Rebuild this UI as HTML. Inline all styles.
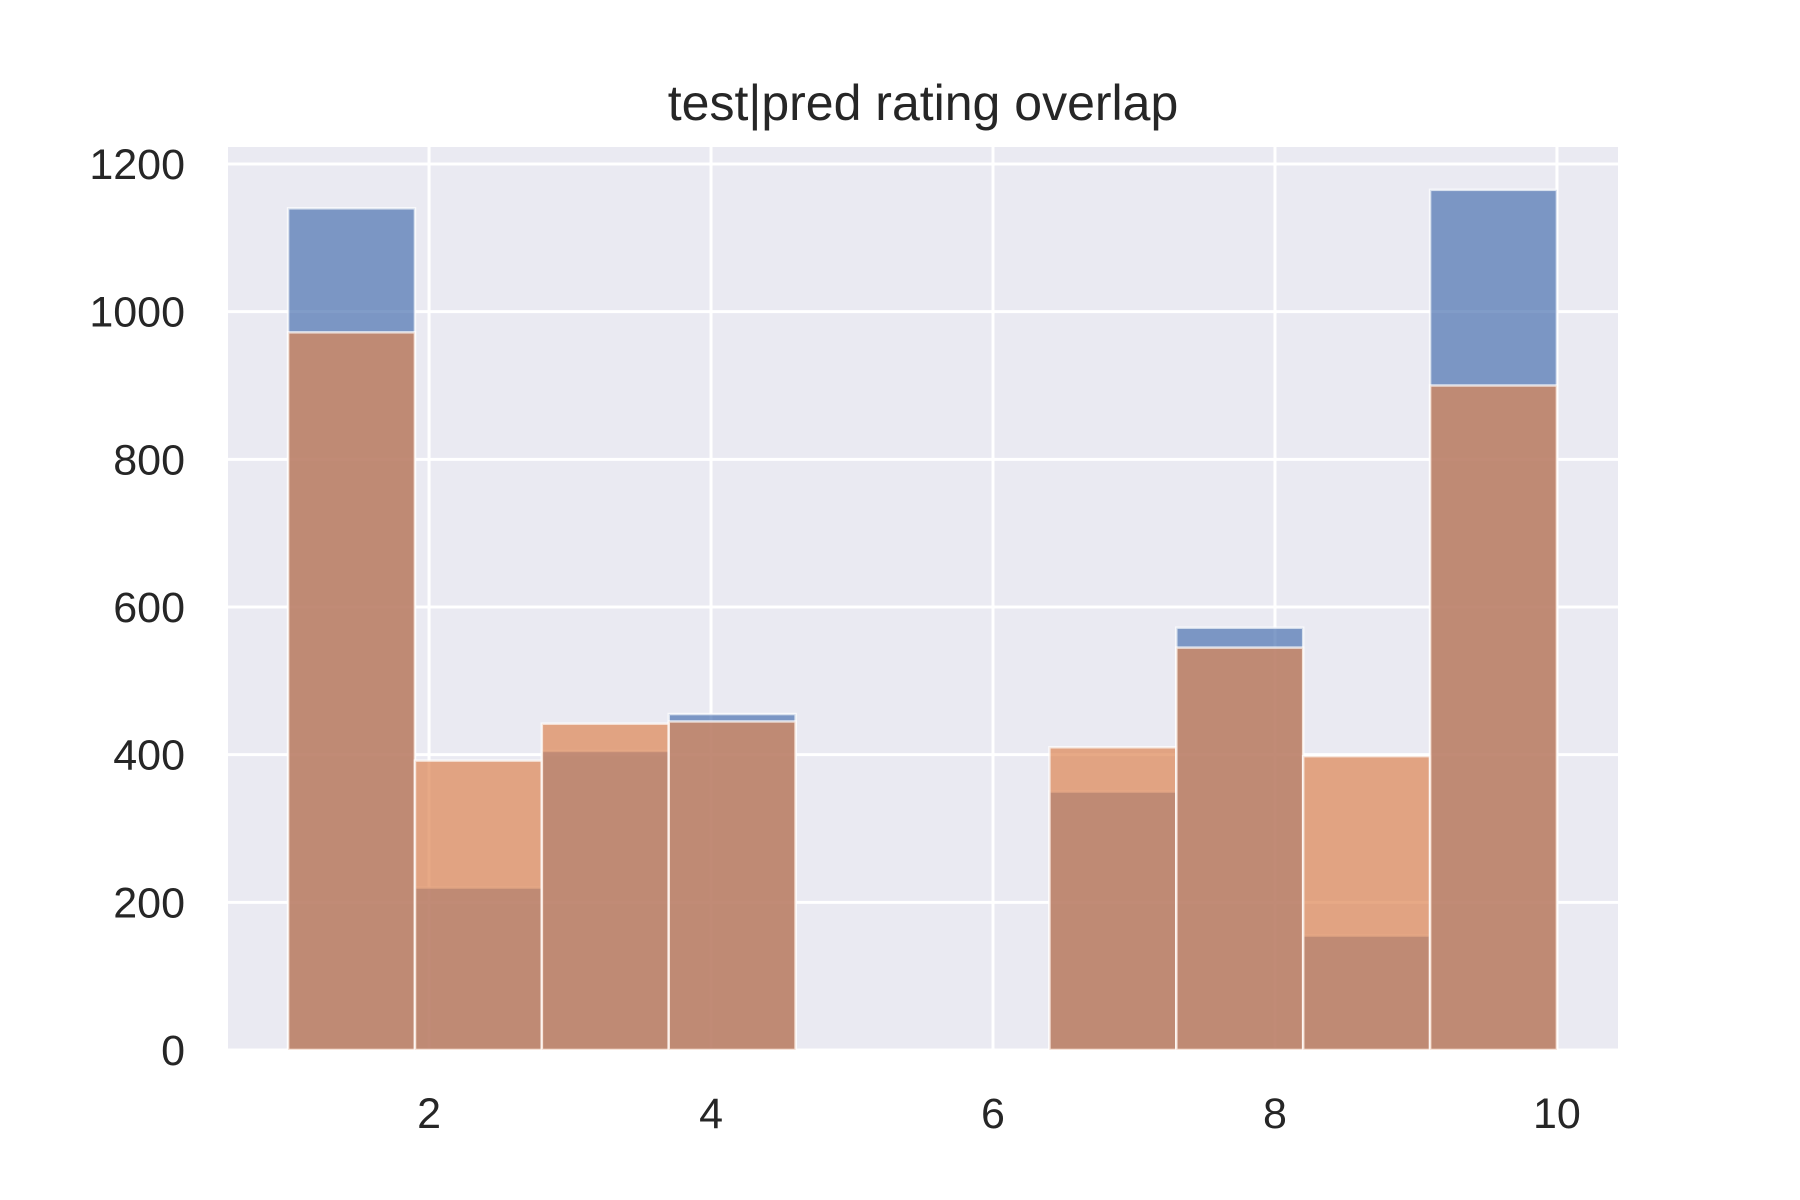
<!DOCTYPE html>
<html><head><meta charset="utf-8"><style>
html,body{margin:0;padding:0;background:#fff;}
svg{display:block;font-family:"Liberation Sans",Arial,sans-serif;}
</style></head><body>
<svg id="chart" width="1800" height="1200" viewBox="0 0 1800 1200" xmlns="http://www.w3.org/2000/svg">
<rect width="1800" height="1200" fill="#fff"/>
<g id="plot"></g>
</svg>
<script>
const binEdges = [1,1.9,2.8,3.7,4.6,5.5,6.4,7.3,8.2,9.1,10];
const testCounts = [1140,220,405,455,0,0,350,572,155,1165];
const predCounts = [972,392,442,445,0,0,410,545,398,900];
const xTicks = [2,4,6,8,10];
const yTicks = [0,200,400,600,800,1000,1200];
const title = "test|pred rating overlap";

const L=228,R=1618,T=147,B=1050;
const xMin=0.574,xMax=10.433,yMin=0,yMax=1223;
const sx=v=>L+(v-xMin)/(xMax-xMin)*(R-L);
const sy=v=>B-(v-yMin)/(yMax-yMin)*(B-T);
const NS="http://www.w3.org/2000/svg";
const g=document.getElementById('plot');
function mk(tag,attrs,parent){const e=document.createElementNS(NS,tag);for(const k in attrs)e.setAttribute(k,attrs[k]);(parent||g).appendChild(e);return e;}

const bg=mk('rect',{x:L,y:T,width:R-L,height:B-T,fill:'#eaeaf2'});


for(const t of yTicks){
  const ln=mk('line',{x1:L,x2:R,y1:sy(t),y2:sy(t),stroke:'#fff','stroke-width':3});
  
  
  const tx=mk('text',{x:185,y:sy(t)+15,'text-anchor':'end','font-size':43,fill:'#262626'});
  tx.textContent=t;
  
  
}
for(const t of xTicks){
  const ln=mk('line',{x1:sx(t),x2:sx(t),y1:T,y2:B,stroke:'#fff','stroke-width':3});
  
  
  const tx=mk('text',{x:sx(t),y:1128,'text-anchor':'middle','font-size':43,fill:'#262626'});
  tx.textContent=t;
  
  
}
function series(counts,color,name){
  counts.forEach((c,i)=>{
    if(c<=0)return;
    const x0=sx(binEdges[i]),x1=sx(binEdges[i+1]);
    const r=mk('rect',{x:x0,y:sy(c),width:x1-x0,height:sy(0)-sy(c),fill:color,'fill-opacity':0.7,stroke:'#fff','stroke-opacity':0.7,'stroke-width':2.5});
    
    
  });
}
series(testCounts,'#4c72b0','test');
series(predCounts,'#dd8452','pred');
const tt=mk('text',{x:(L+R)/2,y:120,'text-anchor':'middle','font-size':50,fill:'#262626'});
tt.textContent=title;


</script>
</body></html>
